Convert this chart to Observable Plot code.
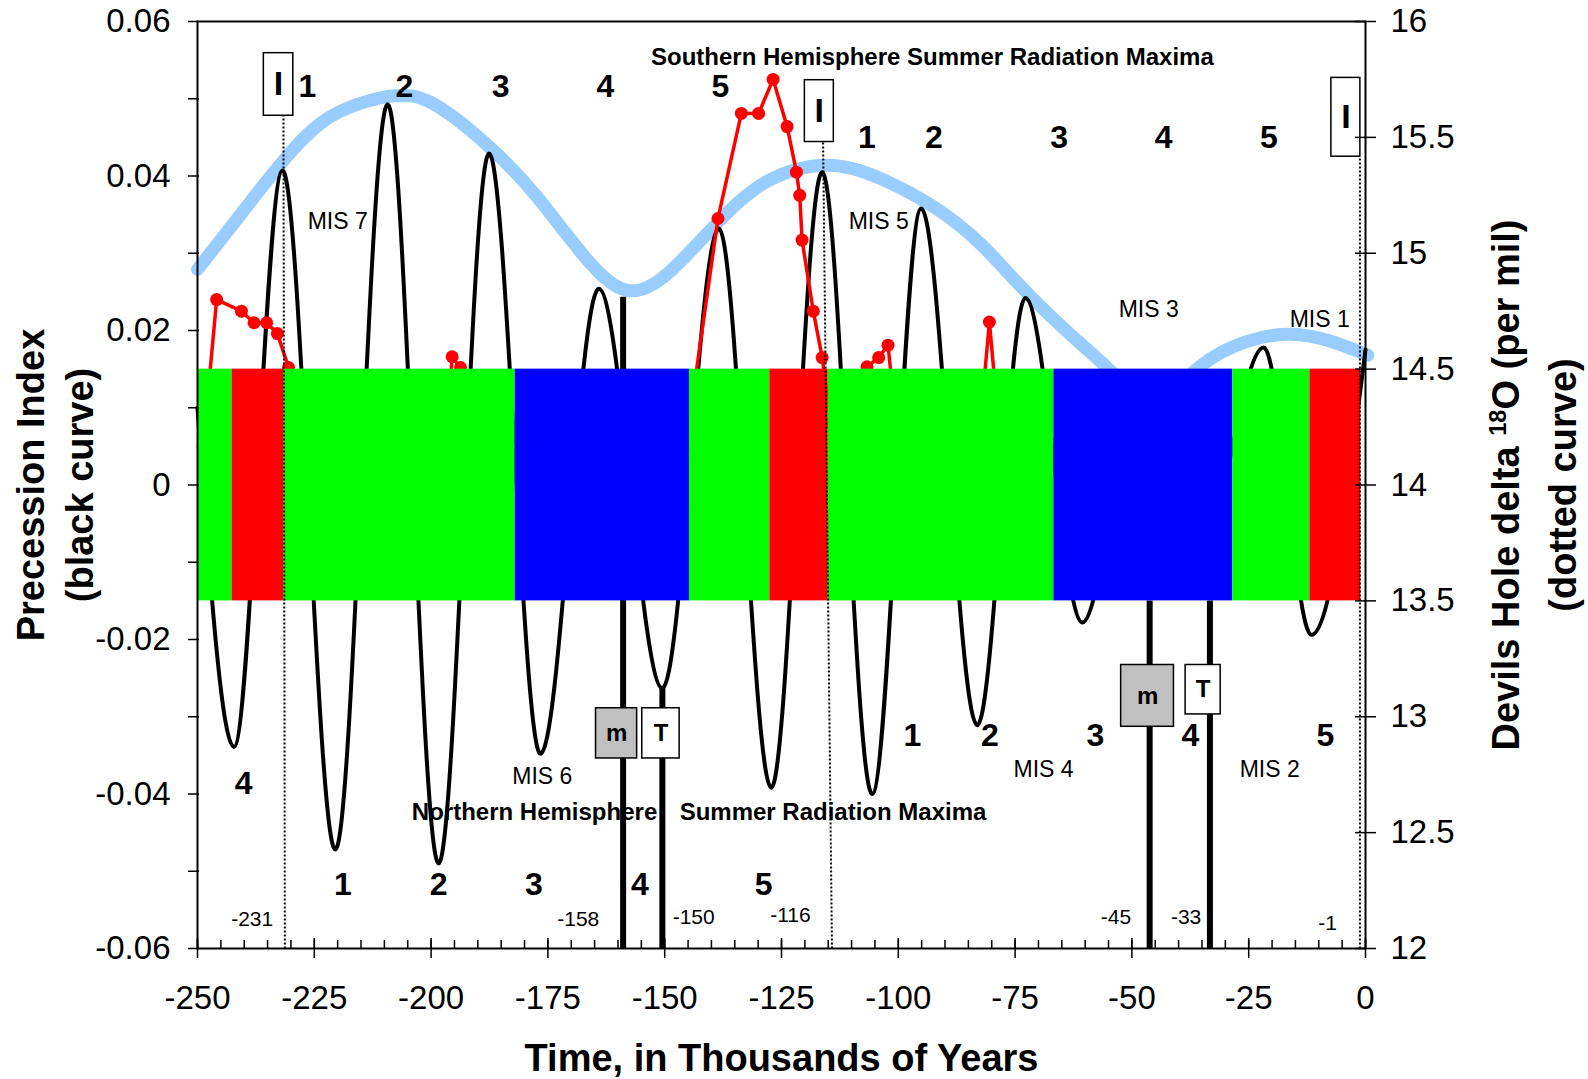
<!DOCTYPE html>
<html>
<head>
<meta charset="utf-8">
<script src="https://cdn.jsdelivr.net/npm/d3@7"></script>
<script src="https://cdn.jsdelivr.net/npm/@observablehq/plot@0.6"></script>
<style>
  html, body { margin: 0; padding: 0; background: #ffffff; }
  #chart svg { display: block; }
</style>
</head>
<body>
<div id="chart"></div>
<script>
// ---------------- DATA ----------------
// Precession index (black curve), extrema (kyr, index)
const precTime  = [-250, -242.2, -231.8, -220.5, -209.3, -198.4, -187.6, -176.6, -164.1, -150.5, -138.4, -127.2, -116.3, -105.6, -95.1, -83.1, -72.8, -60.6, -48.5, -36.5, -21.8, -11.6, 0];
const precIndex = [0.010, -0.0339, 0.0407, -0.0472, 0.0493, -0.0490, 0.0429, -0.0348, 0.0254, -0.0263, 0.0332, -0.0392, 0.0405, -0.0400, 0.0358, -0.0311, 0.0242, -0.0178, 0.012, -0.012, 0.0178, -0.0194, 0.0175];

// Devils Hole delta 18O (blue "dotted" curve, right axis, per mil)
const dhTime  = [-250, -243, -232, -221.5, -211, -207, -200, -187.6, -177.2, -166.5, -158, -149.5, -138.8, -128.1, -115.2, -103.5, -92.4, -82.4, -72, -61, -55.5, -45.5, -35.5, -25.3, -16, -7.5, 0.5];
const dhDelta = [14.93, 15.11, 15.39, 15.59, 15.67, 15.68, 15.65, 15.46, 15.24, 14.97, 14.84, 14.91, 15.13, 15.31, 15.38, 15.32, 15.20, 15.04, 14.82, 14.61, 14.51, 14.38, 14.51, 14.62, 14.65, 14.62, 14.56];

// Red dotted record (left-axis units); low values lie behind the colour band
const redTime  = [-248.8, -245.9, -240.6, -237.9, -235.2, -232.9, -230.5, -228, -196.5, -195.5, -193.7, -192, -145.5, -138.6, -133.6, -129.9, -126.8, -123.8, -121.8, -121.1, -120.6, -118.2, -116.3, -114.5, -108, -106.7, -104.2, -102.2, -100, -82.9, -80.5, -78.1];
const redValue = [0.005, 0.0240, 0.0225, 0.0210, 0.0210, 0.0196, 0.0152, 0.005, 0.008, 0.0166, 0.0152, 0.005, 0.005, 0.0345, 0.0481, 0.0481, 0.0525, 0.0464, 0.0405, 0.0375, 0.0317, 0.0225, 0.0165, 0.008, 0.008, 0.0153, 0.0165, 0.0181, 0.005, 0.005, 0.0211, 0.005];

// Colour band (time edges, colours; spans 13.5 - 14.5 on the right axis)
const barEdges  = [-250, -242.6, -231.5, -182, -144.7, -127.5, -115, -66.7, -28.4, -11.9, -1];
const barColors = ["#00ff00", "#ff0000", "#00ff00", "#0000ff", "#00ff00", "#ff0000", "#00ff00", "#0000ff", "#00ff00", "#ff0000"];
const barRange  = [13.5, 14.5];

// Event lines (dotted lines: bottom time, top time, top value)
const dottedBottom = [-231.3, -114.2, -1.2];
const dottedTopT   = [-231.6, -116.1, -1.2];
const dottedTop    = [0.0478, 0.0444, 0.0425];
const thickTime  = [-158.9, -150.5, -46.2, -33.3];
const thickTop   = [0.0243, -0.0262, -0.015, -0.015];

// Boxed labels
const boxText = ["I", "I", "I", "m", "T", "m", "T"];
const boxX1   = [-235.8, -120, -7.3, -164.7, -154.8, -52.3, -38.5];
const boxX2   = [-229.5, -113.8, -1.1, -155.9, -146.8, -41, -31];
const boxY1   = [0.0478, 0.0444, 0.0425, -0.0354, -0.0354, -0.0313, -0.0297];
const boxY2   = [0.0559, 0.0524, 0.0527, -0.0289, -0.0289, -0.0233, -0.0233];
const boxFill = ["white", "white", "white", "#c0c0c0", "white", "#c0c0c0", "white"];

// Radiation maxima numbers
const numText  = ["1","2","3","4","5", "1","2","3","4","5", "1","2","3","4","5", "4", "1","2","3","4","5"];
const numTime  = [-226.5,-205.7,-185.1,-162.7,-138.1, -106.7,-92.4,-65.6,-43.2,-20.7, -218.9,-198.4,-178,-155.3,-128.8, -240.1, -97,-80.4,-57.8,-37.5,-8.6];
const numValue = [0.0516,0.0516,0.0516,0.0516,0.0516, 0.0450,0.0450,0.0450,0.0450,0.0450, -0.0518,-0.0518,-0.0518,-0.0518,-0.0518, -0.0387, -0.0324,-0.0324,-0.0324,-0.0324,-0.0324];

// Marine isotope stage labels
const misText  = ["MIS 7", "MIS 6", "MIS 5", "MIS 4", "MIS 3", "MIS 2", "MIS 1"];
const misTime  = [-220, -176.2, -104.2, -68.9, -46.4, -20.5, -9.8];
const misValue = [0.0341, -0.0377, 0.0341, -0.0369, 0.0227, -0.0369, 0.0214];

// Event ages
const ageText  = ["-231", "-158", "-150", "-116", "-45", "-33", "-1"];
const ageTime  = [-238.3, -168.5, -143.8, -123.1, -53.4, -38.4, -8.1];
const ageValue = [-0.0562, -0.0562, -0.0559, -0.0557, -0.0560, -0.0560, -0.0567];

// Hemisphere captions
const hemiText  = ["Southern Hemisphere Summer Radiation Maxima", "Northern Hemisphere", "Summer Radiation Maxima"];
const hemiTime  = [-92.7, -151.6, -146.8];
const hemiValue = [0.0553, -0.0424, -0.0424];

// Axes
const xLabelTicks = [-250, -225, -200, -175, -150, -125, -100, -75, -50, -25, 0];
const xMinorTicks = [-250,-245,-240,-235,-230,-225,-220,-215,-210,-205,-200,-195,-190,-185,-180,-175,-170,-165,-160,-155,-150,-145,-140,-135,-130,-125,-120,-115,-110,-105,-100,-95,-90,-85,-80,-75,-70,-65,-60,-55,-50,-45,-40,-35,-30,-25,-20,-15,-10,-5,0];
const yLabelTicks = [-0.06, -0.04, -0.02, 0, 0.02, 0.04, 0.06];
const yMinorTicks = [-0.06, -0.05, -0.04, -0.03, -0.02, -0.01, 0, 0.01, 0.02, 0.03, 0.04, 0.05, 0.06];
const rightTicks  = [12, 12.5, 13, 13.5, 14, 14.5, 15, 15.5, 16];

const xDomain = [-250, 0];
const yDomain = [-0.06, 0.06];
const rDomain = [12, 16];

// ---------------- HELPERS ----------------
const toLeft   = v => yDomain[0] + (v - rDomain[0]) * (yDomain[1] - yDomain[0]) / (rDomain[1] - rDomain[0]);
const fromLeft = y => rDomain[0] + (y - yDomain[0]) * (rDomain[1] - rDomain[0]) / (yDomain[1] - yDomain[0]);
const pick = (arr, ids) => ids.map(i => arr[i]);
const FONT = "'Liberation Sans', Arial, Helvetica, sans-serif";

const boxMidX = boxX1.map((a, i) => (a + boxX2[i]) / 2);
const boxMidY = boxY1.map((a, i) => (a + boxY2[i]) / 2);
const iIdx  = [0, 1, 2];
const mtIdx = [3, 4, 5, 6];

const plot = Plot.plot({
  width: 1588,
  height: 1079,
  marginLeft: 197,
  marginRight: 223,
  marginTop: 21,
  marginBottom: 131,
  x: {domain: xDomain, label: null},
  y: {domain: yDomain, label: null},
  style: {fontFamily: FONT, background: "white", color: "black", overflow: "visible"},
  marks: [
    // Devils Hole curve
    Plot.line(dhTime, {x: dhTime, y: dhDelta.map(toLeft), stroke: "#99ccff", strokeWidth: 13, strokeLinecap: "round", strokeLinejoin: "round", curve: "natural"}),
    // Northern caption (under the curves)
    Plot.text([hemiText[1]], {x: [hemiTime[1]], y: [hemiValue[1]], text: d => d, textAnchor: "end", fontSize: 24, fontWeight: "bold", fill: "black"}),
    Plot.text([hemiText[2]], {x: [hemiTime[2]], y: [hemiValue[2]], text: d => d, textAnchor: "start", fontSize: 24, fontWeight: "bold", fill: "black"}),
    // Precession index curve
    Plot.line(precTime, {x: precTime, y: precIndex, stroke: "black", strokeWidth: 4, curve: "monotone-x", strokeLinejoin: "round"}),
    // Red record
    Plot.line(redTime, {x: redTime, y: redValue, stroke: "#ff0000", strokeWidth: 3.5}),
    Plot.dot(redTime, {x: redTime, y: redValue, r: 6.5, fill: "#ff0000", stroke: "none"}),
    // Thick event lines
    Plot.ruleX(thickTime, {x: thickTime, y1: yDomain[0], y2: thickTop, stroke: "black", strokeWidth: 6}),
    // Colour band
    Plot.rect(barColors, {x1: barEdges.slice(0, -1), x2: barEdges.slice(1), y1: toLeft(barRange[0]), y2: toLeft(barRange[1]), fill: barColors}),
    // Dotted event lines
    Plot.link(dottedTop, {x1: dottedBottom, y1: yDomain[0], x2: dottedTopT, y2: dottedTop, stroke: "black", strokeWidth: 2, strokeDasharray: "2,2"}),
    // Boxes
    Plot.rect(boxText, {x1: boxX1, x2: boxX2, y1: boxY1, y2: boxY2, fill: boxFill, stroke: "black", strokeWidth: 1.5}),
    Plot.text(pick(boxText, iIdx), {x: pick(boxMidX, iIdx), y: pick(boxMidY, iIdx), text: d => d, fontSize: 34, fontWeight: "bold", fill: "black"}),
    Plot.text(pick(boxText, mtIdx), {x: pick(boxMidX, mtIdx), y: pick(boxMidY, mtIdx), text: d => d, fontSize: 24, fontWeight: "bold", fill: "black"}),
    // Numbers
    Plot.text(numText, {x: numTime, y: numValue, text: numText, fontSize: 32, fontWeight: "bold", fill: "black"}),
    // MIS labels
    Plot.text(misText, {x: misTime, y: misValue, text: misText, fontSize: 23, fill: "black"}),
    // Ages
    Plot.text(ageText, {x: ageTime, y: ageValue, text: ageText, fontSize: 21, fill: "black"}),
    // Southern caption
    Plot.text([hemiText[0]], {x: [hemiTime[0]], y: [hemiValue[0]], text: d => d, fontSize: 24, fontWeight: "bold", fill: "black"}),
    // Frame
    Plot.frame({stroke: "black", strokeWidth: 2}),
    // Axis ticks
    Plot.axisX({anchor: "bottom", ticks: xMinorTicks, tickSize: 8, dy: -8, tickFormat: () => "", stroke: "black", strokeWidth: 1.5, label: null}),
    Plot.axisX({anchor: "bottom", ticks: xLabelTicks, tickSize: 20, dy: -10, tickFormat: () => "", stroke: "black", strokeWidth: 1.5, label: null}),
    Plot.axisX({anchor: "bottom", ticks: xLabelTicks, tickSize: 0, tickPadding: 37, tickFormat: d => String(d), fontSize: 33, fill: "black", label: null}),
    Plot.axisY({anchor: "left", ticks: yMinorTicks, tickSize: 11, dx: 2, tickFormat: () => "", stroke: "black", strokeWidth: 1.5, label: null}),
    Plot.axisY({anchor: "left", ticks: yLabelTicks, tickSize: 0, tickPadding: 27, tickFormat: d => (d === 0 ? "0" : d.toFixed(2)), fontSize: 33, fill: "black", label: null}),
    Plot.axisY({anchor: "right", ticks: rightTicks.map(toLeft), tickSize: 21, dx: -11, tickFormat: () => "", stroke: "black", strokeWidth: 1.5, label: null}),
    Plot.axisY({anchor: "right", ticks: rightTicks.map(toLeft), tickSize: 0, tickPadding: 25, tickFormat: d => String(Math.round(fromLeft(d) * 10) / 10), fontSize: 33, fill: "black", label: null}),
    // Axis titles
    Plot.text(["Precession Index\n(black curve)"], {frameAnchor: "left", textAnchor: "middle", lineAnchor: "middle", text: d => d, rotate: -90, dx: -145, fontSize: 38, fontWeight: "bold", lineHeight: 1.29, fill: "black"}),
    Plot.text(["Devils Hole delta 18O (per mil)\n(dotted curve)"], {frameAnchor: "right", textAnchor: "middle", lineAnchor: "middle", text: d => d, rotate: -90, dx: 164, fontSize: 38, fontWeight: "bold", lineHeight: 1.5, fill: "black"}),
    Plot.text(["Time, in Thousands of Years"], {frameAnchor: "bottom", textAnchor: "middle", lineAnchor: "middle", text: d => d, dy: 110, fontSize: 38, fontWeight: "bold", fill: "black"})
  ]
});

document.getElementById("chart").appendChild(plot);

// Superscript "18" in the right axis title
const NS = "http://www.w3.org/2000/svg";
plot.querySelectorAll("text, tspan").forEach(el => {
  if (el.childNodes.length === 1 && el.firstChild.nodeType === 3 && el.textContent === "Devils Hole delta 18O (per mil)") {
    el.textContent = "";
    el.appendChild(document.createTextNode("Devils Hole delta "));
    const sup = document.createElementNS(NS, "tspan");
    sup.setAttribute("baseline-shift", "super");
    sup.setAttribute("font-size", "0.62em");
    sup.textContent = "18";
    el.appendChild(sup);
    const rest = document.createElementNS(NS, "tspan");
    rest.textContent = "O (per mil)";
    el.appendChild(rest);
  }
});
</script>
</body>
</html>
